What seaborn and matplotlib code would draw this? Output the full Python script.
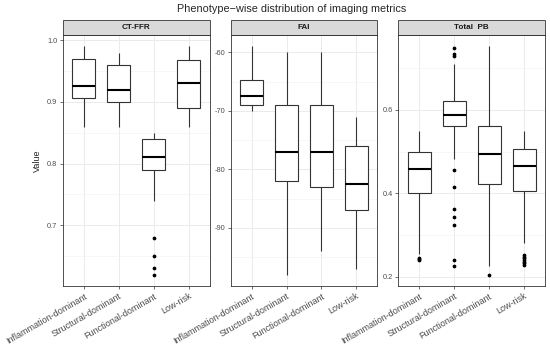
import numpy as np
import pandas as pd
import matplotlib
matplotlib.use("Agg")
import matplotlib.pyplot as plt
from matplotlib.patches import Rectangle
from matplotlib.ticker import MultipleLocator
import seaborn as sns

# --- values (box stats per phenotype) ---
phenotypes = ["Inflammation-dominant", "Structural-dominant",
              "Functional-dominant", "Low-risk"]
metrics = ["CT-FFR", "FAI", "Total  PB"]

ctffr_lo = [0.86, 0.86, 0.74, 0.86]
ctffr_q1 = [0.907, 0.90, 0.79, 0.89]
ctffr_med = [0.925, 0.92, 0.81, 0.93]
ctffr_q3 = [0.97, 0.96, 0.84, 0.968]
ctffr_hi = [0.99, 0.98, 0.85, 0.99]
ctffr_out = [[], [], [0.68, 0.65, 0.63, 0.62], []]

fai_lo = [-70, -98, -94, -97]
fai_q1 = [-69, -82, -83, -87]
fai_med = [-67.5, -77, -77, -82.5]
fai_q3 = [-64.7, -69, -69, -76]
fai_hi = [-59, -60, -60, -71]
fai_out = [[], [], [], []]

pb_lo = [0.255, 0.482, 0.225, 0.28]
pb_q1 = [0.40, 0.561, 0.423, 0.406]
pb_med = [0.4575, 0.588, 0.4945, 0.465]
pb_q3 = [0.50, 0.621, 0.562, 0.507]
pb_hi = [0.549, 0.71, 0.752, 0.549]
pb_out = [[0.245, 0.242, 0.24],
          [0.749, 0.735, 0.730, 0.456, 0.416, 0.3625, 0.344, 0.323, 0.240, 0.225],
          [0.205],
          [0.252, 0.248, 0.244, 0.24, 0.236, 0.232, 0.227]]


def make_sample(lo, q1, med, q3, hi, out):
    # observations whose quartiles / whiskers / outliers equal the read values
    out_lo = sorted(v for v in out if v < med)
    out_hi = sorted(v for v in out if v > med)
    m = max(len(out_lo), len(out_hi)) + 1
    return (out_lo + [lo] * (m - len(out_lo)) + [q1] * m + [med]
            + [q3] * m + [hi] * (m - len(out_hi)) + out_hi)


rows = []
stats = {
    "CT-FFR": (ctffr_lo, ctffr_q1, ctffr_med, ctffr_q3, ctffr_hi, ctffr_out),
    "FAI": (fai_lo, fai_q1, fai_med, fai_q3, fai_hi, fai_out),
    "Total  PB": (pb_lo, pb_q1, pb_med, pb_q3, pb_hi, pb_out),
}
for metric, (lo, q1, med, q3, hi, out) in stats.items():
    for i, ph in enumerate(phenotypes):
        for v in make_sample(lo[i], q1[i], med[i], q3[i], hi[i], out[i]):
            rows.append({"metric": metric, "phenotype": ph, "value": v})
df = pd.DataFrame(rows)

# --- plot ---
sns.set_theme(style="white")
plt.rcParams["font.family"] = ["Liberation Sans", "DejaVu Sans"]
plt.rcParams["axes.unicode_minus"] = False

g = sns.catplot(
    data=df, x="phenotype", y="value", col="metric", kind="box",
    order=phenotypes, col_order=metrics, sharey=False,
    width=0.66, color="white", linecolor="#333333", linewidth=0.8,
    fliersize=1.7, showcaps=False,
    medianprops={"color": "black", "linewidth": 1.5},
    flierprops={"marker": "o", "markerfacecolor": "black",
                "markeredgecolor": "black"},
    facet_kws={"despine": False},
)
fig = g.figure
fig.set_size_inches(5.5, 3.54)
fig.subplots_adjust(left=63 / 550, right=545 / 550,
                    top=1 - 35 / 354, bottom=1 - 286 / 354, wspace=0.145)

major = [0.1, 10, 0.2]
for ax, metric, step in zip(g.axes.flat, metrics, major):
    vals = df.loc[df.metric == metric, "value"]
    pad = 0.05 * (vals.max() - vals.min())
    ax.set_ylim(vals.min() - pad, vals.max() + pad)
    ax.set_xlim(-0.6, 3.6)
    ax.yaxis.set_major_locator(MultipleLocator(step))
    ax.yaxis.set_minor_locator(MultipleLocator(step / 2))
    ax.grid(True, which="major", color="#EBEBEB", linewidth=0.7)
    ax.grid(True, which="minor", axis="y", color="#F2F2F2", linewidth=0.4)
    ax.set_axisbelow(True)
    for s in ax.spines.values():
        s.set_color("#333333")
        s.set_linewidth(0.6)
    ax.tick_params(axis="both", which="major", length=2.5, width=0.5,
                   color="#333333", bottom=True, left=True, pad=1.5)
    ax.tick_params(axis="y", labelsize=5.3, labelcolor="#4D4D4D")
    ax.tick_params(axis="x", labelsize=6.5, labelcolor="#4D4D4D")
    for lab in ax.get_xticklabels():
        lab.set_rotation(30)
        lab.set_ha("right")
        lab.set_rotation_mode("anchor")
    ax.set_title("")
    ax.set_xlabel("")
    ax.set_ylabel("")
    # facet strip
    ax.add_patch(Rectangle((0, 1.0), 1, 15 / 251, transform=ax.transAxes,
                           facecolor="#D9D9D9", edgecolor="#333333",
                           linewidth=0.6, clip_on=False))
    ax.text(0.5, 1.0 + 7.5 / 251, metric, transform=ax.transAxes,
            ha="center", va="center", fontsize=5.9, fontweight="bold",
            color="#1A1A1A")

g.axes.flat[0].set_ylabel("Value", fontsize=6.5, labelpad=4)
fig.text(292 / 550, 1 - 9 / 354, "Phenotype\u2212wise distribution of imaging metrics",
         ha="center", va="center", fontsize=7.8)

fig.savefig("out.png", dpi=100)
